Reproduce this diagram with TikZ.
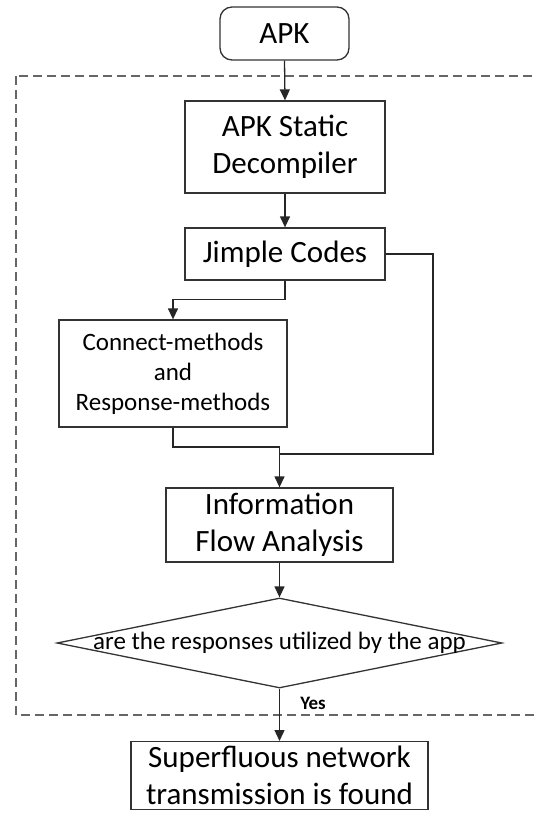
\documentclass[tikz,border=0pt]{standalone}
\usepackage{fontspec}
\setmainfont{Carlito}
\usetikzlibrary{arrows.meta,shapes.geometric}
\begin{document}
\begin{tikzpicture}[x=1pt,y=-1pt,
  box/.style={draw=black!80, line width=1.3pt, inner sep=0pt, align=center, text=black},
  big/.style={font=\fontsize{31}{37}\selectfont},
  mid/.style={font=\fontsize{25}{30}\selectfont},
  arr/.style={draw=black!85, line width=1.3pt, -{Triangle[length=11pt,width=10pt]}},
  conn/.style={draw=black!85, line width=1.3pt}]
\useasboundingbox (0,0) rectangle (534,813);
\fill[white] (0,0) rectangle (534,813);
\clip (0,0) rectangle (534,813);
% dashed frame
\draw[draw=black!60, line width=1.5pt, dash pattern=on 9pt off 5pt] (16,76) rectangle (545,715);
% nodes
\node[box, big, rounded corners=12pt, minimum width=129pt, minimum height=53pt] (apk) at (284.5,33.5) {APK};
\node[box, big, minimum width=200pt, minimum height=92pt] (dec) at (285,147) {APK Static\\Decompiler};
\node[box, big, minimum width=200pt, minimum height=52pt] (jim) at (285,254) {Jimple Codes};
\node[box, mid, minimum width=228pt, minimum height=107pt] (con) at (173,373.5) {Connect-methods\\and\\Response-methods};
\node[box, big, minimum width=227pt, minimum height=74pt] (inf) at (279.5,525) {Information\\Flow Analysis};
\node[diamond, draw=black!80, line width=1.3pt, aspect=4.94, inner sep=0pt, minimum width=445pt, minimum height=90pt] (dia) at (279.5,643) {};
\node[mid, text=black, inner sep=0pt] (diat) at (dia.center) {are the responses utilized by the app};
\node[box, big, minimum width=297pt, minimum height=68pt, anchor=north] (sup) at (279.5,741) {Superfluous network\\transmission is found};
% connectors
\draw[arr] (apk.south) -- (dec.north);
\draw[arr] (dec.south) -- (jim.north);
\draw[arr] (jim.south) -- ++(0,19) -| (con.north);
\coordinate (cj) at (173,447);
\draw[arr] (con.south) -- (cj) -| (inf.north);
\coordinate (jr) at (433,454);
\draw[conn] (jim.east) -| (jr) -- (inf.north |- jr);
\draw[arr] (inf.south) -- (dia.north);
\draw[arr] (dia.south) -- (sup.north);
\node[font=\fontsize{19}{22}\selectfont\bfseries, text=black, inner sep=0pt] (yes) at (313,703) {Yes};
\end{tikzpicture}
\end{document}
